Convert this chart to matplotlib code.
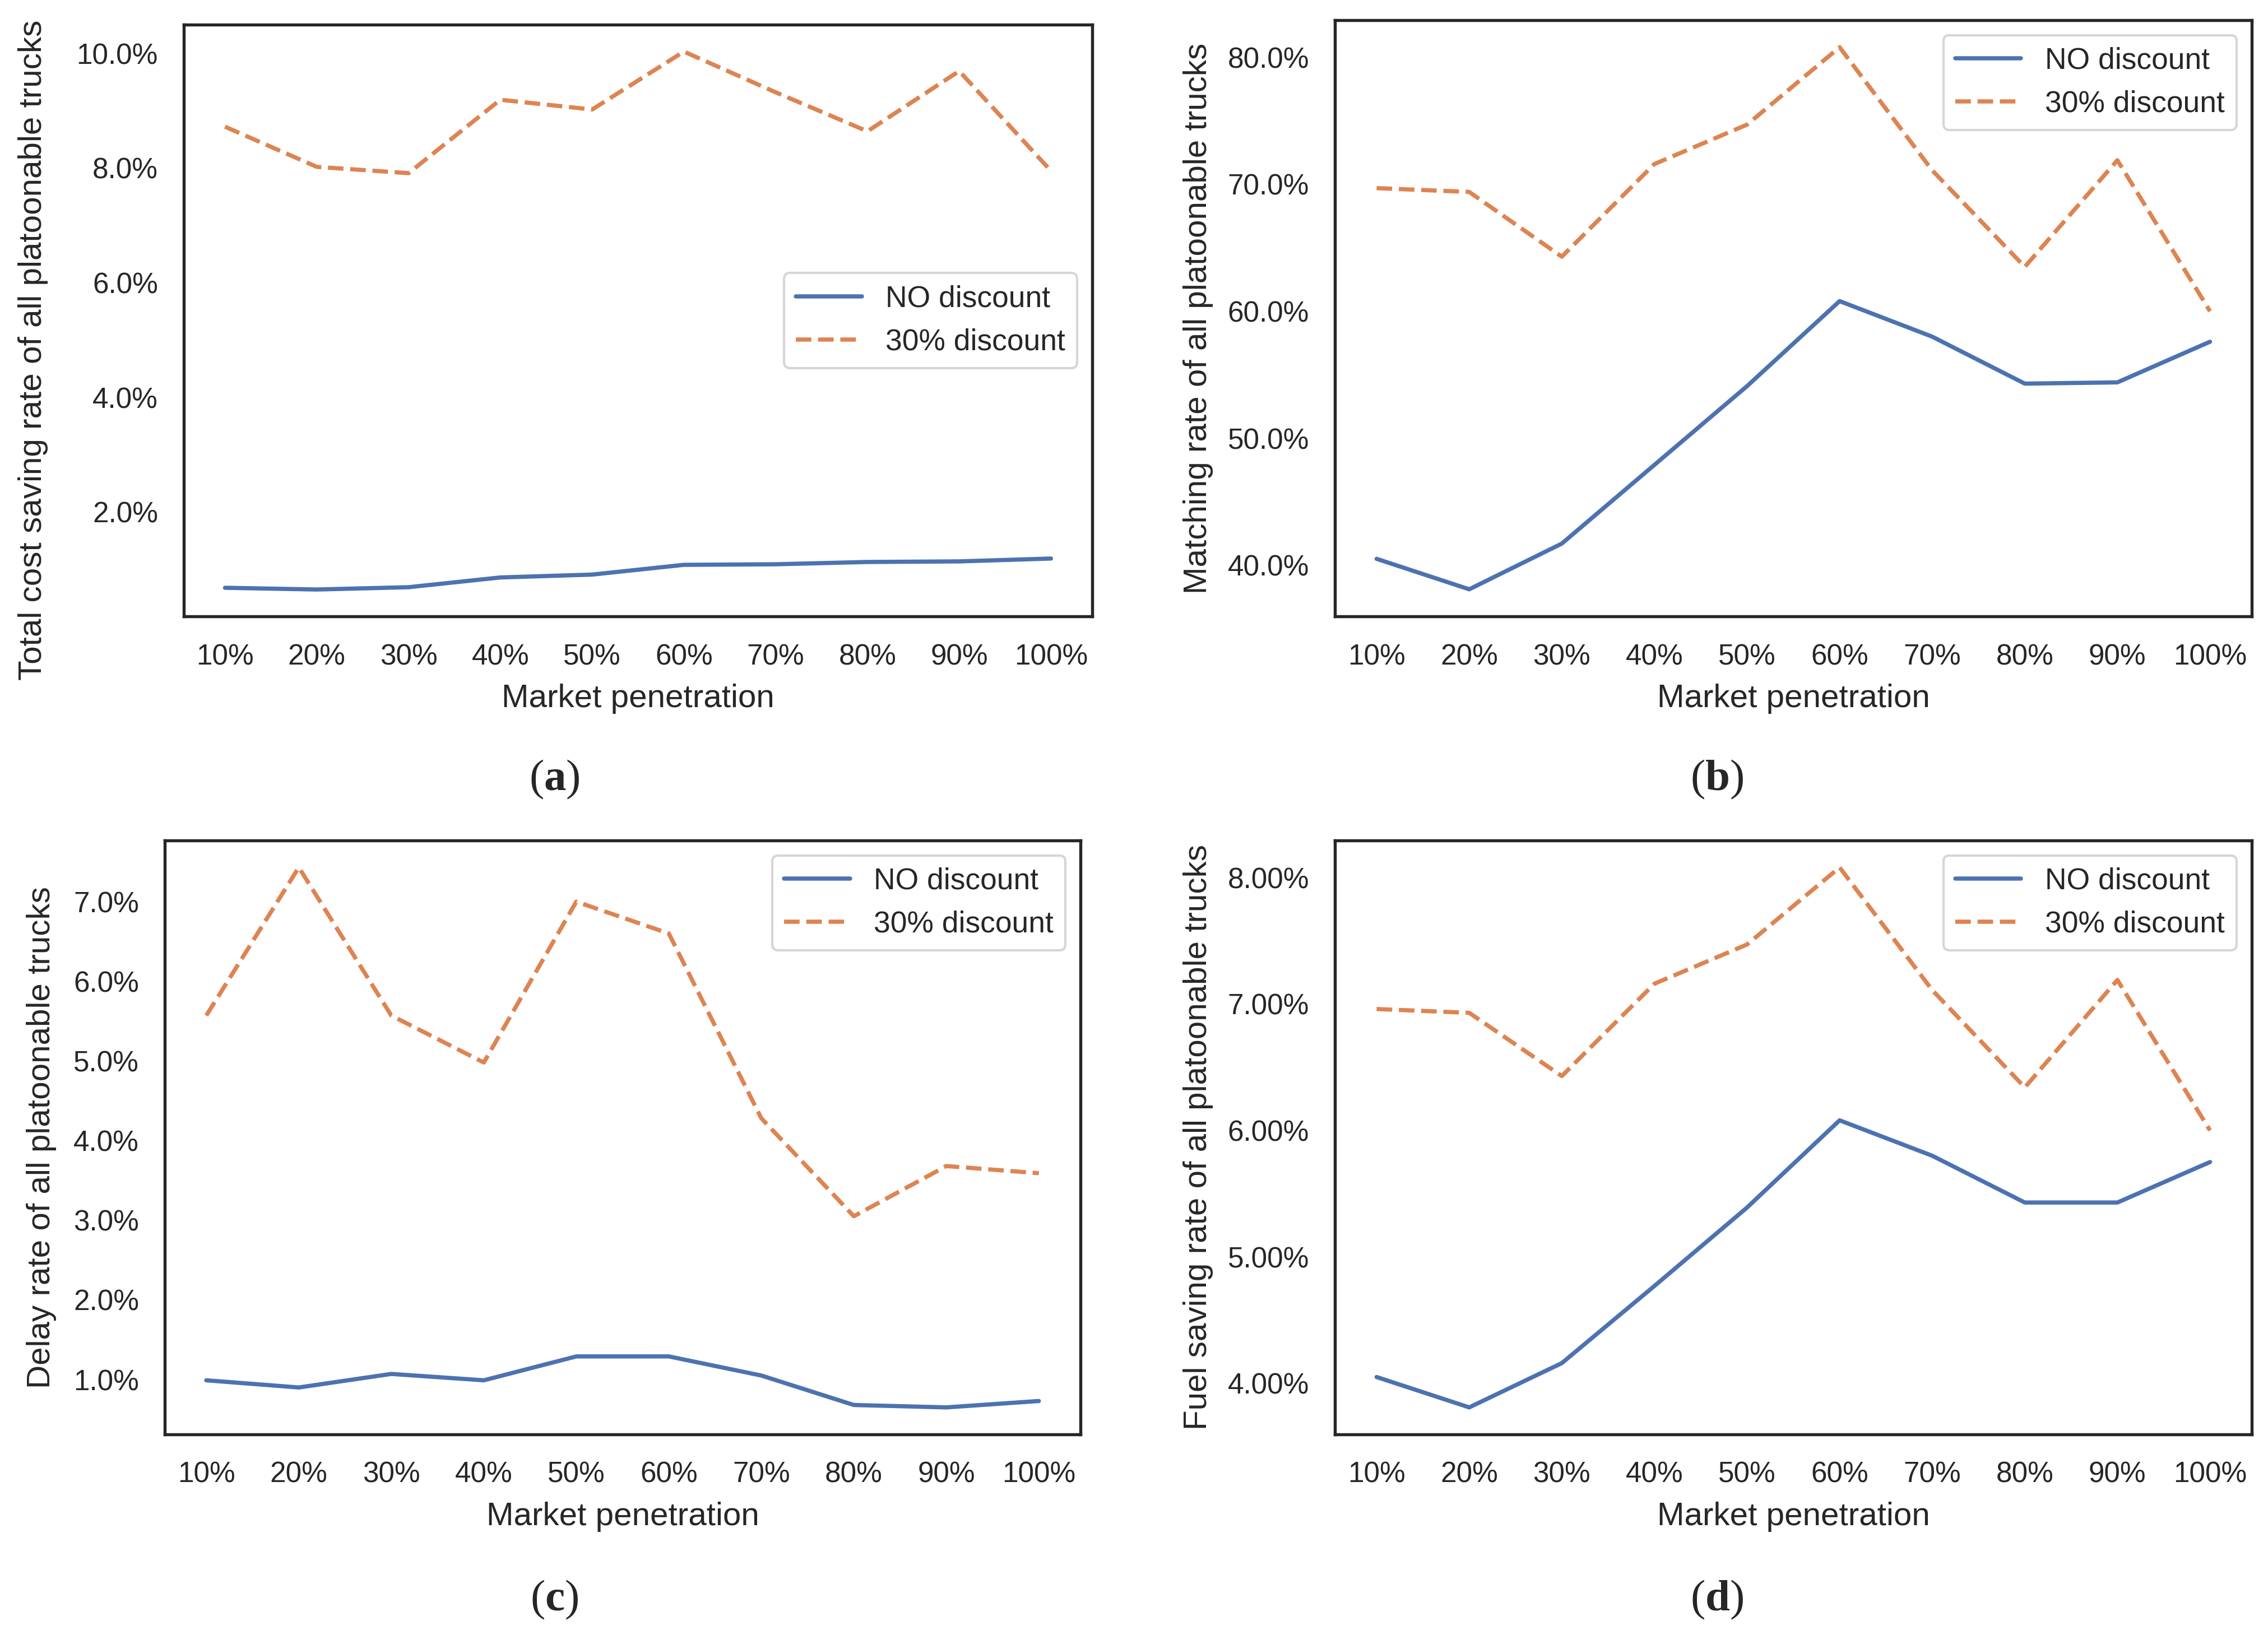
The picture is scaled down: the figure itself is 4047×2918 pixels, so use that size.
import matplotlib
matplotlib.use("Agg")
import matplotlib.pyplot as plt
from matplotlib.ticker import PercentFormatter
import seaborn as sns

sns.set_style("white")
plt.rcParams['font.family'] = ['Liberation Sans', 'DejaVu Sans']
plt.rcParams['mathtext.fontset'] = 'custom'
plt.rcParams['mathtext.bf'] = 'Liberation Serif:bold'
plt.rcParams['mathtext.rm'] = 'Liberation Serif'

# Market penetration categories
penetration = ['10%', '20%', '30%', '40%', '50%', '60%', '70%', '80%', '90%', '100%']

# (a) total cost saving rate (%)
cost_no = [0.68, 0.65, 0.69, 0.86, 0.91, 1.08, 1.09, 1.13, 1.14, 1.19]
cost_30 = [8.72, 8.02, 7.91, 9.19, 9.02, 10.03, 9.32, 8.64, 9.69, 7.95]

# (b) matching rate (%)
match_no = [40.5, 38.1, 41.7, 47.9, 54.1, 60.8, 58.0, 54.3, 54.4, 57.6]
match_30 = [69.7, 69.4, 64.3, 71.6, 74.7, 80.8, 71.1, 63.5, 71.9, 60.0]

# (c) delay rate (%)
delay_no = [0.99, 0.90, 1.07, 0.99, 1.29, 1.29, 1.05, 0.68, 0.65, 0.73]
delay_30 = [5.57, 7.43, 5.57, 4.98, 7.00, 6.60, 4.28, 3.05, 3.68, 3.59]

# (d) fuel saving rate (%)
fuel_no = [4.05, 3.81, 4.16, 4.77, 5.39, 6.08, 5.80, 5.43, 5.43, 5.75]
fuel_30 = [6.96, 6.93, 6.43, 7.16, 7.47, 8.08, 7.11, 6.34, 7.19, 6.00]

blue = '#4C72B0'
orange = '#DD8452'

fig = plt.figure(figsize=(4047 / 300, 2918 / 300), dpi=300)

# rect, series, ylabel, decimals, legend loc, tag, tag position, ylabel coords
panels = [
    ([0.0810, 0.6230, 0.4006, 0.3619], cost_no, cost_30,
     'Total cost saving rate of all platoonable trucks', 1, 'center right',
     'a', 0.2444, 0.5233, (-0.149, 0.45)),
    ([0.5886, 0.6230, 0.4042, 0.3647], match_no, match_30,
     'Matching rate of all platoonable trucks', 1, 'upper right',
     'b', 0.7571, 0.5233, (-0.133, 0.5)),
    ([0.0726, 0.1227, 0.4038, 0.3633], delay_no, delay_30,
     'Delay rate of all platoonable trucks', 1, 'upper right',
     'c', 0.2444, 0.0216, (-0.118, 0.5)),
    ([0.5886, 0.1227, 0.4042, 0.3633], fuel_no, fuel_30,
     'Fuel saving rate of all platoonable trucks', 2, 'upper right',
     'd', 0.7571, 0.0216, (-0.133, 0.5)),
]

for rect, no_disc, disc30, ylabel, dec, loc, tag, tx, ty, lab_xy in panels:
    ax = fig.add_axes(rect)
    ax.plot(penetration, no_disc, color=blue, lw=1.8, label='NO discount')
    ax.plot(penetration, disc30, color=orange, lw=1.8, ls='--', label='30% discount')
    ax.yaxis.set_major_formatter(PercentFormatter(xmax=100, decimals=dec))
    ax.tick_params(axis='both', labelsize=12.3, length=0, colors='#262626')
    ax.tick_params(axis='y', pad=11)
    ax.tick_params(axis='x', pad=11.5)
    ax.set_xlabel('Market penetration', fontsize=14, color='#262626', labelpad=5.5)
    ax.set_ylabel(ylabel, fontsize=14, color='#262626')
    ax.yaxis.set_label_coords(*lab_xy)
    for sp in ax.spines.values():
        sp.set_color('#262626')
        sp.set_linewidth(1.3)
    leg = ax.legend(loc=loc, fontsize=12.8, frameon=True, fancybox=True,
                    handlelength=2.2)
    leg.get_frame().set_edgecolor('#cccccc')
    leg.get_frame().set_linewidth(1.0)
    fig.text(tx, ty, '(' + r'$\mathbf{' + tag + '}$' + ')', fontsize=19,
             family='Liberation Serif', ha='center', va='center')

fig.savefig('out.png', dpi=300)
